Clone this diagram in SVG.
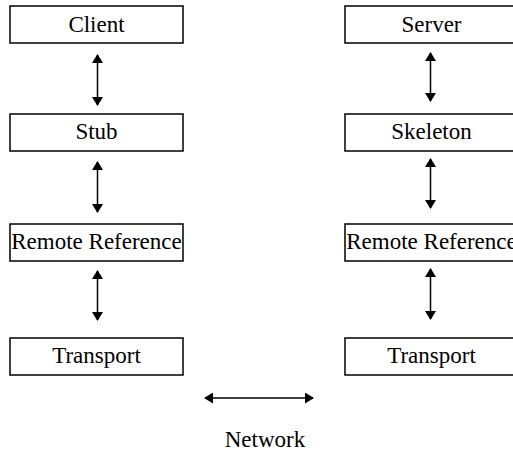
<svg xmlns="http://www.w3.org/2000/svg" width="513" height="451" viewBox="0 0 513 451">
<style>
.box{fill:#fff;stroke:#000;stroke-width:1.5}
.lbl{font-family:"Liberation Serif","Times New Roman",serif;font-size:23px;fill:#000;text-anchor:middle}
.con{stroke:#000;stroke-width:1.5;fill:none;marker-start:url(#ah);marker-end:url(#ah)}
</style>
<defs>
<marker id="ah" viewBox="0 0 9 11" refX="8" refY="5.5" markerWidth="9" markerHeight="11" markerUnits="userSpaceOnUse" orient="auto-start-reverse">
<path d="M0,0 L9,5.5 L0,11 z" fill="#000"/>
</marker>
</defs>
<rect width="513" height="451" fill="#fff"/>
<g id="client"><rect class="box" x="10" y="6" width="173" height="37"/><text class="lbl" x="96.5" y="32">Client</text></g>
<g id="stub"><rect class="box" x="10" y="114" width="173" height="37"/><text class="lbl" x="96.5" y="138.5">Stub</text></g>
<g id="remote-ref-left"><rect class="box" x="10" y="224" width="173" height="37"/><text class="lbl" x="96.5" y="248.5">Remote Reference</text></g>
<g id="transport-left"><rect class="box" x="10" y="338" width="173" height="37"/><text class="lbl" x="96.5" y="362.5">Transport</text></g>
<g id="server"><rect class="box" x="345" y="6" width="173" height="37"/><text class="lbl" x="431.5" y="32">Server</text></g>
<g id="skeleton"><rect class="box" x="345" y="114" width="173" height="37"/><text class="lbl" x="431.5" y="138.5">Skeleton</text></g>
<g id="remote-ref-right"><rect class="box" x="345" y="224" width="173" height="37"/><text class="lbl" x="431.5" y="248.5">Remote Reference</text></g>
<g id="transport-right"><rect class="box" x="345" y="338" width="173" height="37"/><text class="lbl" x="431.5" y="362.5">Transport</text></g>
<g id="network"><text class="lbl" x="265" y="447">Network</text></g>
<g id="connectors">
<line class="con" x1="97.5" y1="55" x2="97.5" y2="105"/>
<line class="con" x1="97.5" y1="162" x2="97.5" y2="212"/>
<line class="con" x1="97.5" y1="271" x2="97.5" y2="320"/>
<line class="con" x1="430.5" y1="53" x2="430.5" y2="101"/>
<line class="con" x1="430.5" y1="159" x2="430.5" y2="208"/>
<line class="con" x1="430.5" y1="269" x2="430.5" y2="319"/>
<line class="con" x1="205" y1="398" x2="313" y2="398"/>
</g>
</svg>
